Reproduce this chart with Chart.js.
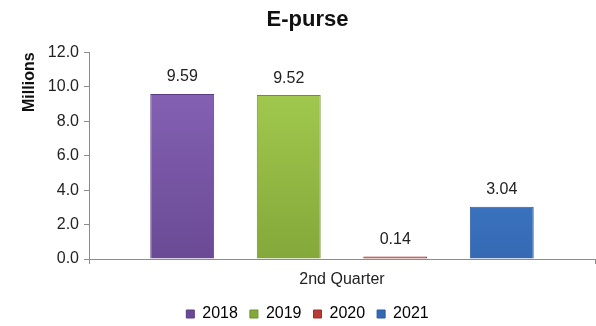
<!DOCTYPE html>
<html>
<head>
<meta charset="utf-8">
<script src="https://cdn.jsdelivr.net/npm/chart.js@4"></script>
<style>
  html, body { margin: 0; padding: 0; background: #fff; }
  #wrap { width: 596px; height: 326px; }
</style>
</head>
<body>
<div id="wrap"><canvas id="myChart" width="596" height="326"></canvas></div>
<script>
const categories = ['2nd Quarter'];
const years = ['2018', '2019', '2020', '2021'];
const values2018 = [9.59];
const values2019 = [9.52];
const values2020 = [0.14];
const values2021 = [3.04];
const yTicks = [0, 2, 4, 6, 8, 10, 12];

const FONT = '"Liberation Sans", Arial, sans-serif';

// top / bottom / edge shades for each year
const shades = [
    ['#8a66ba', '#6a4a95', '#5a3d82'],
    ['#a8d052', '#84a83a', '#6f9030'],
    ['#d8504c', '#b83a36', '#9c2e2b'],
    ['#4a8cdc', '#3569b4', '#2c5a9c']
];

function barFill(i) {
    return function (ctx) {
        const area = ctx.chart.chartArea;
        if (!area) return shades[i][1];
        const g = ctx.chart.ctx.createLinearGradient(0, area.top, 0, area.bottom);
        g.addColorStop(0, shades[i][0]);
        g.addColorStop(1, shades[i][1]);
        return g;
    };
}

const seriesValues = [values2018, values2019, values2020, values2021];
const data = {
    labels: categories,
    datasets: years.map(function (y, i) {
        return {
            label: y,
            data: seriesValues[i],
            backgroundColor: barFill(i),
            borderColor: shades[i][2],
            borderWidth: 1,
            categoryPercentage: 0.842,
            barPercentage: 0.6
        };
    })
};

// value printed above each bar
const valueLabels = {
    id: 'valueLabels',
    afterDatasetsDraw(chart) {
        const c = chart.ctx;
        c.save();
        c.font = '16px ' + FONT;
        c.fillStyle = '#222';
        c.textAlign = 'center';
        c.textBaseline = 'middle';
        chart.data.datasets.forEach(function (ds, i) {
            chart.getDatasetMeta(i).data.forEach(function (bar, j) {
                c.fillText(ds.data[j].toFixed(2), bar.x, bar.y - 17);
            });
        });
        c.restore();
    }
};

const config = {
    type: 'bar',
    data: data,
    options: {
        responsive: false,
        animation: false,
        layout: { padding: { left: 20, right: 1, top: 0, bottom: -6 } },
        plugins: {
            title: {
                display: true,
                text: 'E-purse',
                color: '#111',
                font: { family: FONT, size: 22, weight: 'bold' },
                padding: { top: 7, bottom: 19 }
            },
            legend: {
                position: 'bottom',
                labels: {
                    color: '#222',
                    boxWidth: 8,
                    boxHeight: 8,
                    padding: 12,
                    font: { family: FONT, size: 16 },
                    generateLabels: function (chart) {
                        return chart.data.datasets.map(function (ds, i) {
                            return {
                                text: ds.label,
                                fillStyle: shades[i][1],
                                strokeStyle: shades[i][2],
                                lineWidth: 1,
                                datasetIndex: i
                            };
                        });
                    }
                }
            },
            tooltip: { enabled: false }
        },
        scales: {
            x: {
                afterFit: function (scale) { scale.height = 35; },
                grid: { drawOnChartArea: false, drawTicks: true, tickLength: 5, color: '#8c8c8c' },
                border: { color: '#8c8c8c', width: 1 },
                ticks: {
                    color: '#222',
                    padding: 6,
                    font: { family: FONT, size: 16 }
                }
            },
            y: {
                min: yTicks[0],
                max: yTicks[yTicks.length - 1],
                afterFit: function (scale) { scale.width = 69; },
                afterBuildTicks: function (scale) {
                    scale.ticks = yTicks.map(function (v) { return { value: v }; });
                },
                grid: { drawOnChartArea: false, drawTicks: true, tickLength: 5, color: '#8c8c8c' },
                border: { color: '#8c8c8c', width: 1 },
                ticks: {
                    color: '#222',
                    padding: 5,
                    font: { family: FONT, size: 16 },
                    callback: function (v) { return Number(v).toFixed(1); }
                },
                title: {
                    display: true,
                    text: 'Millions',
                    align: 'end',
                    color: '#111',
                    padding: { top: 0, bottom: 0 },
                    font: { family: FONT, size: 16, weight: 'bold' }
                }
            }
        }
    },
    plugins: [valueLabels]
};

const myChart = new Chart(document.getElementById('myChart').getContext('2d'), config);
</script>
</body>
</html>
